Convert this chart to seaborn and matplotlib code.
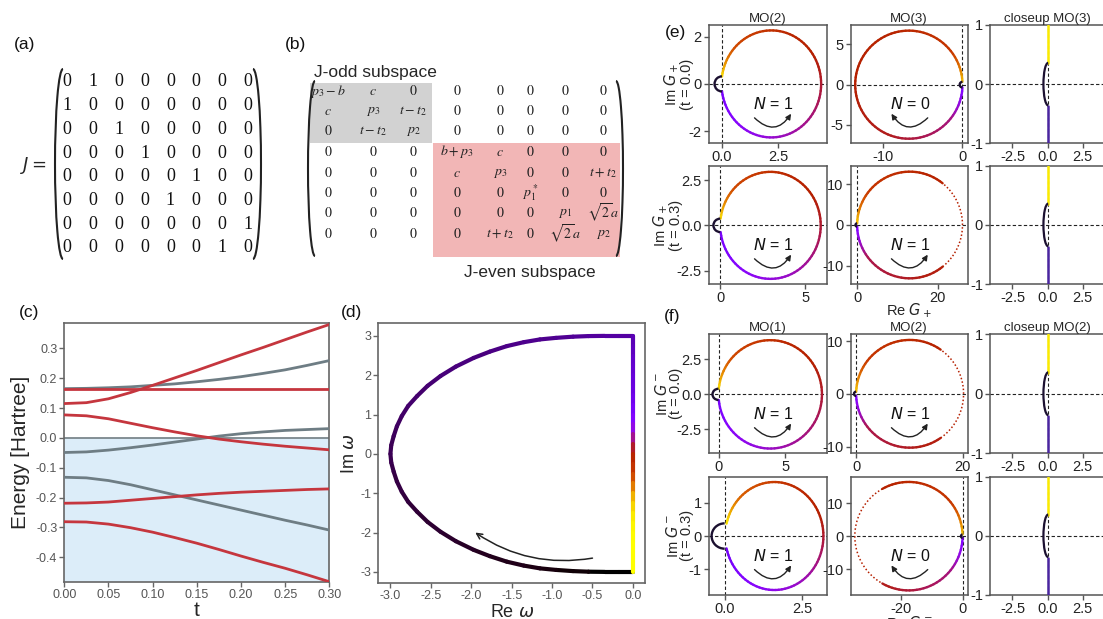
import numpy as np
import pandas as pd
import matplotlib.pyplot as plt
import matplotlib as mpl
import seaborn as sns
from matplotlib.patches import Arc, Rectangle
from matplotlib.collections import LineCollection

sns.set_style('ticks')
mpl.rcParams['font.family'] = ['Liberation Sans', 'DejaVu Sans']
mpl.rcParams['axes.unicode_minus'] = False
mpl.rcParams['mathtext.fontset'] = 'stix'

# ---------------- data ----------------
# (a) J matrix
J = [[0, 1, 0, 0, 0, 0, 0, 0],
     [1, 0, 0, 0, 0, 0, 0, 0],
     [0, 0, 1, 0, 0, 0, 0, 0],
     [0, 0, 0, 1, 0, 0, 0, 0],
     [0, 0, 0, 0, 0, 1, 0, 0],
     [0, 0, 0, 0, 1, 0, 0, 0],
     [0, 0, 0, 0, 0, 0, 0, 1],
     [0, 0, 0, 0, 0, 0, 1, 0]]

# (b) hamiltonian blocks
H_entries = [
    ['p_3-b', 'c', '0', '0', '0', '0', '0', '0'],
    ['c', 'p_3', 't-t_2', '0', '0', '0', '0', '0'],
    ['0', 't-t_2', 'p_2', '0', '0', '0', '0', '0'],
    ['0', '0', '0', 'b+p_3', 'c', '0', '0', '0'],
    ['0', '0', '0', 'c', 'p_3', '0', '0', 't+t_2'],
    ['0', '0', '0', '0', '0', 'p_1^*', '0', '0'],
    ['0', '0', '0', '0', '0', '0', 'p_1', r'\sqrt{2}a'],
    ['0', '0', '0', '0', 't+t_2', '0', r'\sqrt{2}a', 'p_2'],
]

# (c) energy levels vs t
t_vals = [0.0, 0.025, 0.05, 0.075, 0.1, 0.125, 0.15, 0.175, 0.2, 0.225, 0.25, 0.275, 0.3]
grey_1 = [0.165, 0.166, 0.168, 0.171, 0.176, 0.181, 0.188, 0.196, 0.205, 0.216, 0.228, 0.243, 0.259]
grey_2 = [-0.049, -0.047, -0.041, -0.033, -0.024, -0.014, -0.004, 0.006, 0.014, 0.020, 0.025, 0.028, 0.031]
grey_3 = [-0.132, -0.134, -0.143, -0.157, -0.174, -0.191, -0.208, -0.225, -0.242, -0.259, -0.276, -0.292, -0.309]
red_1 = [0.115, 0.118, 0.131, 0.152, 0.176, 0.201, 0.226, 0.252, 0.278, 0.303, 0.329, 0.355, 0.380]
red_2 = [0.164, 0.164, 0.164, 0.164, 0.164, 0.164, 0.164, 0.164, 0.164, 0.164, 0.164, 0.164, 0.164]
red_3 = [0.077, 0.074, 0.064, 0.049, 0.034, 0.020, 0.007, -0.004, -0.013, -0.021, -0.028, -0.034, -0.040]
red_4 = [-0.219, -0.218, -0.215, -0.209, -0.203, -0.197, -0.191, -0.186, -0.182, -0.179, -0.176, -0.173, -0.171]
red_5 = [-0.281, -0.282, -0.289, -0.301, -0.316, -0.334, -0.353, -0.374, -0.396, -0.417, -0.437, -0.459, -0.482]

# (d) integration contour
re_omega_para = [0.0, -0.17, -0.35, -0.55, -0.74, -0.95, -1.15, -1.35, -1.56, -1.77, -1.97, -2.19,
                 -2.38, -2.54, -2.67, -2.78, -2.86, -2.92, -2.96, -2.99, -3.0,
                 -2.99, -2.96, -2.92, -2.86, -2.78, -2.67, -2.54, -2.38, -2.19, -1.97, -1.77,
                 -1.56, -1.35, -1.15, -0.95, -0.74, -0.55, -0.35, -0.17, 0.0]
im_omega_para = [-3.0, -3.0, -3.0, -2.995, -2.98, -2.95, -2.91, -2.84, -2.74, -2.6, -2.44, -2.22,
                 -1.98, -1.73, -1.47, -1.22, -0.96, -0.7, -0.45, -0.22, 0.0,
                 0.22, 0.45, 0.7, 0.96, 1.22, 1.47, 1.73, 1.98, 2.22, 2.44, 2.6,
                 2.74, 2.84, 2.91, 2.95, 2.98, 2.995, 3.0, 3.0, 3.0]
c_para = [0.0, 0.0, 0.0, 0.003, 0.006, 0.009, 0.012, 0.015, 0.018, 0.021, 0.024, 0.027,
          0.03, 0.033, 0.036, 0.039, 0.042, 0.045, 0.048, 0.051, 0.054,
          0.057, 0.06, 0.063, 0.066, 0.069, 0.072, 0.075, 0.078, 0.081, 0.084, 0.087,
          0.09, 0.093, 0.096, 0.099, 0.102, 0.105, 0.108, 0.111, 0.114]
im_omega_vert = [3.0, 2.75, 2.5, 2.25, 2.0, 1.75, 1.5, 1.25, 1.0, 0.75, 0.5, 0.25, 0.0,
                 -0.25, -0.5, -0.75, -1.0, -1.25, -1.5, -1.75, -2.0, -2.25, -2.5, -2.75, -3.0]
c_vert = [0.12, 0.13, 0.14, 0.15, 0.16, 0.17, 0.18, 0.2, 0.23, 0.28, 0.36, 0.45, 0.5,
          0.55, 0.62, 0.72, 0.85, 0.92, 0.96, 0.98, 0.99, 1.0, 1.0, 1.0, 1.0]

# (e), (f) Nyquist circles: order e(t=0) MO2, MO3 | e(t=0.3) MO2, MO3 | f(t=0) MO1, MO2 | f(t=0.3) MO1, MO2
circle_cx = [2.2, -6.73, 2.95, 13.1, 3.88, 10.1, 1.6, -17.4]
circle_rx = [2.22, 6.73, 2.95, 13.1, 3.88, 10.1, 1.58, 17.4]
circle_ry = [2.27, 6.7, 2.95, 13.1, 3.87, 10.2, 1.62, 16.5]
loop_rx = [0.33, 0.35, 0.4, 0.4, 0.45, 0.4, 0.42, 0.5]
loop_ry = [0.32, 0.35, 0.37, 0.4, 0.4, 0.4, 0.38, 0.5]
winding = [1, 0, 1, 1, 1, 1, 1, 0]
dotted_deg = [None, None, None, (-50, 50), None, (-55, 55), None, (120, 240)]
arc_color_frac = [0.0, 0.1, 0.3, 0.5, 0.7, 0.9, 1.0]
arc_color_vals = [
    [0.22, 0.27, 0.38, 0.47, 0.53, 0.66, 0.95],
    [0.25, 0.42, 0.48, 0.5, 0.52, 0.6, 0.92],
    [0.22, 0.26, 0.36, 0.47, 0.53, 0.66, 0.95],
    [0.25, 0.45, 0.49, 0.5, 0.52, 0.6, 0.92],
    [0.22, 0.28, 0.39, 0.47, 0.53, 0.66, 0.95],
    [0.25, 0.45, 0.49, 0.5, 0.52, 0.6, 0.92],
    [0.2, 0.25, 0.35, 0.47, 0.55, 0.72, 0.97],
    [0.25, 0.42, 0.48, 0.5, 0.52, 0.6, 0.92],
]
panel_xlim = [(-0.6, 4.66), (-14.05, 0.63), (-0.69, 6.24), (-1.65, 27.45),
              (-0.75, 8.1), (-1.06, 20.94), (-0.52, 3.28), (-36.2, 1.6)]
panel_ylim = [(-2.52, 2.5), (-7.27, 7.4), (-3.25, 3.29), (-14.57, 14.57),
              (-4.21, 4.29), (-11.27, 11.27), (-1.77, 1.78), (-17.9, 18.1)]
panel_xticks = [[0, 2.5], [-10, 0], [0, 5], [0, 20], [0, 5], [0, 20], [0, 2.5], [-20, 0]]
panel_xlabels = [['0.0', '2.5'], ['-10', '0'], ['0', '5'], ['0', '20'],
                 ['0', '5'], ['0', '20'], ['0.0', '2.5'], ['-20', '0']]
panel_yticks = [[-2, 0, 2], [-5, 0, 5], [-2.5, 0, 2.5], [-10, 0, 10],
                [-2.5, 0, 2.5], [-10, 0, 10], [-1, 0, 1], [-10, 0, 10]]
panel_ylabels = [['-2', '0', '2'], ['-5', '0', '5'], ['-2.5', '0.0', '2.5'], ['-10', '0', '10'],
                 ['-2.5', '0.0', '2.5'], ['-10', '0', '10'], ['-1', '0', '1'], ['-10', '0', '10']]
col_titles = [['MO(2)', 'MO(3)', 'closeup MO(3)'], ['MO(1)', 'MO(2)', 'closeup MO(2)']]
row_ylabels = ['Im $G_+$\n(t = 0.0)', 'Im $G_+$\n(t = 0.3)',
               'Im $G^-$\n(t = 0.0)', 'Im $G^-$\n(t = 0.3)']
row_ylabel_x = [-0.12, -0.22, -0.22, -0.12]
closeup_x = 0.05
closeup_top = [1.0, 0.35]
closeup_bottom = [-0.37, -1.0]

cmap = plt.get_cmap('gnuplot')

# ---------------- figure ----------------
W, H = 1103.0, 619.0
fig = plt.figure(figsize=(W / 100, H / 100), dpi=100)


def px_box(left, top, right, bottom):
    return [left / W, 1 - bottom / H, (right - left) / W, (bottom - top) / H]


over = fig.add_axes([0, 0, 1, 1])
over.set_xlim(0, W)
over.set_ylim(H, 0)
over.axis('off')


def paren(xc, y0, y1, side, w=8):
    th = (90, 270) if side == 'left' else (270, 90)
    over.add_patch(Arc((xc, (y0 + y1) / 2), 2 * w, y1 - y0, theta1=th[0], theta2=th[1],
                       lw=1.5, color='#222222'))


# panel labels
for lab, x, y in [('(a)', 25, 45), ('(b)', 296, 45), ('(c)', 29, 313), ('(d)', 352, 313),
                  ('(e)', 676, 33), ('(f)', 672, 317)]:
    over.text(x, y, lab, fontsize=12.5, ha='center', va='center', color='#111111')

# (a)
a_cols = np.linspace(67, 248, 8)
a_rows = np.linspace(82, 248, 8)
for i, row in enumerate(J):
    for j, v in enumerate(row):
        over.text(a_cols[j], a_rows[i], str(v), fontsize=13, ha='center', va='center',
                  family='Liberation Serif', color='#111111')
paren(63, 69, 259, 'left')
paren(253, 69, 259, 'right')
over.text(33, 166, r'$J=$', fontsize=13, ha='center', va='center', math_fontfamily='dejavusans')

# (b)
over.add_patch(Rectangle((310, 83), 122, 60, color='#d2d2d2', lw=0))
over.add_patch(Rectangle((433, 143), 187, 114, color='#f2b6b6', lw=0))
b_cols = [328, 373, 413, 457, 500, 530, 565, 603]
b_rows = [91, 111, 131, 152, 173, 193, 213, 234]
for i, row in enumerate(H_entries):
    for j, s in enumerate(row):
        over.text(b_cols[j], b_rows[i], '$' + s + '$', fontsize=10, ha='center', va='center',
                  color='#222222')
paren(315, 81, 256, 'left', w=7)
paren(616, 81, 256, 'right', w=7)
over.text(375, 72, 'J-odd subspace', fontsize=12.5, ha='center', va='center')
over.text(530, 272, 'J-even subspace', fontsize=12.5, ha='center', va='center')

# (c)
ax_c = fig.add_axes(px_box(64.3, 323.3, 329.3, 581.7))
ax_c.axhspan(-0.5, 0, color='#dcedf9', lw=0, zorder=0)
ax_c.axhline(0, color='#7b878c', lw=1.3, zorder=1)
levels = {'g1': grey_1, 'g2': grey_2, 'g3': grey_3,
          'r1': red_1, 'r2': red_2, 'r3': red_3, 'r4': red_4, 'r5': red_5}
df = pd.DataFrame([(t, e, k) for k, vals in levels.items() for t, e in zip(t_vals, vals)],
                  columns=['t', 'energy', 'level'])
palette = {k: ('#6e7d84' if k.startswith('g') else '#c5363e') for k in levels}
sns.lineplot(data=df, x='t', y='energy', hue='level', hue_order=list(levels), palette=palette,
             lw=2, legend=False, ax=ax_c, estimator=None, sort=False, zorder=3)
ax_c.set_xlim(0, 0.3)
ax_c.set_ylim(-0.482, 0.384)
ax_c.set_xticks([0, 0.05, 0.1, 0.15, 0.2, 0.25, 0.3])
ax_c.set_xticklabels(['0.00', '0.05', '0.10', '0.15', '0.20', '0.25', '0.30'])
ax_c.set_yticks([-0.4, -0.3, -0.2, -0.1, 0.0, 0.1, 0.2, 0.3])
ax_c.set_yticklabels(['-0.4', '-0.3', '-0.2', '-0.1', '0.0', '0.1', '0.2', '0.3'])
ax_c.set_xlabel('t', fontsize=15, labelpad=0)
ax_c.set_ylabel('Energy [Hartree]', fontsize=15, labelpad=4)

# (d)
ax_d = fig.add_axes(px_box(378.3, 323.3, 645, 583.3))
pts = np.column_stack([re_omega_para + [0.0] * len(im_omega_vert),
                       im_omega_para + im_omega_vert])
cvals = np.array(c_para + c_vert)
segs = np.stack([pts[:-1], pts[1:]], axis=1)
lc = LineCollection(segs, colors=cmap((cvals[:-1] + cvals[1:]) / 2), lw=3.0, capstyle='round')
ax_d.add_collection(lc)
ax_d.set_xlim(-3.15, 0.15)
ax_d.set_ylim(-3.29, 3.32)
ax_d.set_xticks([-3, -2.5, -2, -1.5, -1, -0.5, 0])
ax_d.set_xticklabels(['-3.0', '-2.5', '-2.0', '-1.5', '-1.0', '-0.5', '0.0'])
ax_d.set_yticks([-3, -2, -1, 0, 1, 2, 3])
ax_d.set_yticklabels(['-3', '-2', '-1', '0', '1', '2', '3'])
ax_d.set_xlabel(r'Re $\omega$', fontsize=13, labelpad=1, math_fontfamily='dejavusans')
ax_d.set_ylabel(r'Im $\omega$', fontsize=13, labelpad=2, math_fontfamily='dejavusans')
ax_d.annotate('', xy=(-1.95, -2.0), xytext=(-0.5, -2.65),
              arrowprops=dict(arrowstyle='->', color='#222222', lw=1.1,
                              connectionstyle='arc3,rad=-0.2', shrinkA=0, shrinkB=0))

for ax in (ax_c, ax_d):
    for s in ax.spines.values():
        s.set_color('#666666')
        s.set_linewidth(1.2)
    ax.tick_params(direction='out', length=3.5, width=1, color='#666666',
                   labelcolor='#555555', labelsize=9, pad=1.5)

# (e), (f)
col_edges = [(708.5, 826.5), (850.5, 967.5), (990, 1105)]
row_edges = [(25, 143.3), (165.7, 284.3), (334.3, 453.3), (476.7, 595)]


def style_small(ax):
    for s in ax.spines.values():
        s.set_color('#555555')
        s.set_linewidth(1.1)
    ax.tick_params(direction='out', length=3.5, width=1, color='#555555',
                   labelcolor='#222222', labelsize=10.5, pad=1.5)
    ax.axhline(0, color='#222222', lw=0.8, ls=(0, (3, 2)), zorder=1)
    ax.axvline(0, color='#222222', lw=0.8, ls=(0, (3, 2)), zorder=1)


def draw_circle(ax, k, col):
    cx, rx, ry = circle_cx[k], circle_rx[k], circle_ry[k]
    gap = np.degrees(np.arcsin(min(loop_ry[k] / ry, 1.0)))
    if cx > 0:
        start, end = 180 + gap, 540 - gap
    else:
        start, end = gap, 360 - gap
    n = 90
    edges = np.linspace(start, end, n + 1)
    for i in range(n):
        s = (i + 0.5) / n
        frac = s if cx > 0 else 1 - s
        v = np.interp(frac, arc_color_frac, arc_color_vals[k])
        mid = ((edges[i] + edges[i + 1]) / 2) % 360
        is_dot = False
        if dotted_deg[k] is not None:
            lo, hi = dotted_deg[k]
            m = mid - 360 if (lo < 0 and mid > 180) else mid
            is_dot = lo <= m <= hi
        if is_dot:
            ax.add_patch(Arc((cx, 0), 2 * rx, 2 * ry, theta1=edges[i], theta2=edges[i + 1],
                             color=cmap(0.5), lw=1.1, ls=(0, (1, 1.6)), zorder=3))
        else:
            ax.add_patch(Arc((cx, 0), 2 * rx, 2 * ry, theta1=edges[i], theta2=edges[i + 1],
                             color=cmap(v), lw=1.7, capstyle='round', zorder=3))
    ax.add_patch(Arc((0, 0), 2 * loop_rx[k], 2 * loop_ry[k], theta1=90, theta2=270,
                     color='#1b1030', lw=1.7, zorder=4))
    n_w = winding[k]
    tx = 0.55 if col == 0 else 0.51
    ax.text(tx, 0.33, f'$N$ = {n_w}', transform=ax.transAxes, ha='center', va='center',
            fontsize=11.5, math_fontfamily='dejavusans', color='#111111')
    if n_w == 1:
        xs, xe, rad = tx - 0.16, tx + 0.15, 0.6
    else:
        xs, xe, rad = tx + 0.15, tx - 0.16, -0.6
    ax.annotate('', xy=(xe, 0.25), xytext=(xs, 0.215), xycoords='axes fraction',
                textcoords='axes fraction',
                arrowprops=dict(arrowstyle='-|>', color='#222222', lw=1.0, mutation_scale=8,
                                connectionstyle=f'arc3,rad={rad}', shrinkA=0, shrinkB=0))


k = 0
for r in range(4):
    for c in range(3):
        l, rr = col_edges[c]
        t, b = row_edges[r]
        ax = fig.add_axes(px_box(l, t, rr, b))
        style_small(ax)
        if c < 2:
            draw_circle(ax, k, c)
            ax.set_xlim(*panel_xlim[k])
            ax.set_ylim(*panel_ylim[k])
            ax.set_xticks(panel_xticks[k])
            ax.set_xticklabels(panel_xlabels[k])
            ax.set_yticks(panel_yticks[k])
            ax.set_yticklabels(panel_ylabels[k])
            k += 1
        else:
            ax.plot([closeup_x, closeup_x], closeup_top, color=cmap(0.97), lw=1.8, zorder=3)
            ax.plot([closeup_x, closeup_x], closeup_bottom, color='#4a25a0', lw=1.8, zorder=3)
            ax.add_patch(Arc((closeup_x, 0), 0.68, 0.72, theta1=90, theta2=270,
                             color='#1b1030', lw=1.6, zorder=4))
            ax.set_xlim(-4.1, 4.1)
            ax.set_ylim(-1, 1)
            ax.set_xticks([-2.5, 0, 2.5])
            ax.set_xticklabels(['-2.5', '0.0', '2.5'])
            ax.set_yticks([-1, 0, 1])
            ax.set_yticklabels(['-1', '0', '1'])
        if r in (0, 2):
            ax.set_title(col_titles[r // 2][c], fontsize=9.5, pad=2)
        if c == 0:
            ax.set_ylabel(row_ylabels[r], fontsize=10.5, linespacing=0.9,
                          math_fontfamily='dejavusans')
            ax.yaxis.set_label_coords(row_ylabel_x[r], 0.5)
        if c == 1 and r in (1, 3):
            ax.set_xlabel('Re $G_+$' if r == 1 else 'Re $G^-$', fontsize=10.5,
                          math_fontfamily='dejavusans')
            ax.xaxis.set_label_coords(0.5, -0.145 if r == 1 else -0.165)

fig.savefig('out.png', dpi=100)
